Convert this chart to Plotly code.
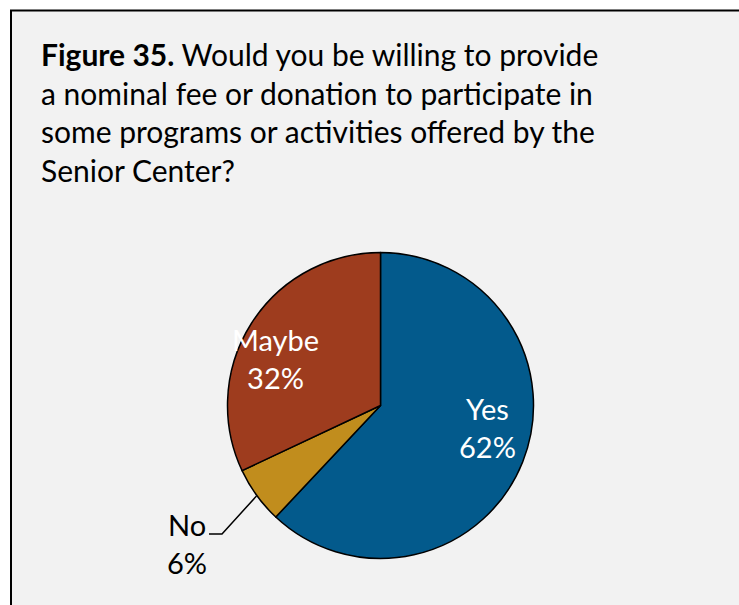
import plotly.graph_objects as go

# Survey responses
categories = ["Yes", "No", "Maybe"]
shares = [62, 6, 32]
colors = ["#035A8C", "#C18D1D", "#9E3C1E"]

title_lines = [
    "<b>Figure 35.</b> Would you be willing to provide",
    "a nominal fee or donation to participate in",
    "some programs or activities offered by the",
    "Senior Center?",
]

W, H = 739, 605
FONT = "Lato"


def px(x):
    return x / W


def py(y):
    return 1 - y / H


fig = go.Figure(
    go.Pie(
        labels=categories,
        values=shares,
        sort=False,
        direction="clockwise",
        rotation=0,
        marker=dict(colors=colors, line=dict(color="black", width=1.5)),
        textinfo="none",
        hoverinfo="label+percent",
        showlegend=False,
        domain=dict(x=[px(227.5), px(533.5)], y=[py(558.5), py(252.5)]),
    )
)

# Panel frame
fig.add_shape(type="rect", xref="paper", yref="paper",
              x0=px(11), x1=px(760), y0=py(640), y1=py(10.5),
              fillcolor="#F2F2F2", line=dict(color="black", width=2),
              layer="below")

# Title lines
line_mid = [53.5, 92.5, 131, 170]
for txt, ym in zip(title_lines, line_mid):
    fig.add_annotation(text=txt, xref="paper", yref="paper",
                       x=px(39), y=py(ym), xanchor="left", yanchor="middle",
                       showarrow=False,
                       font=dict(family=FONT, size=30, color="black"))

# Slice labels
label_pos = {"Yes": (487, 427, "white"), "Maybe": (275, 358, "white"),
             "No": (187, 543, "black")}
total = sum(shares)
for cat, val in zip(categories, shares):
    x, y, c = label_pos[cat]
    fig.add_annotation(text=f"{cat}<br>{round(100 * val / total)}%",
                       xref="paper", yref="paper", x=px(x), y=py(y),
                       xanchor="center", yanchor="middle", showarrow=False,
                       align="center",
                       font=dict(family=FONT, size=29, color=c))

# Leader line for the small slice
fig.add_shape(type="path", xref="paper", yref="paper",
              path=f"M {px(209)},{py(534)} L {px(222)},{py(534)} L {px(256.5)},{py(496)}",
              line=dict(color="black", width=1.5))

fig.update_layout(width=W, height=H, margin=dict(l=0, r=0, t=0, b=0),
                  paper_bgcolor="white", plot_bgcolor="white")

fig.write_html("out.html")
